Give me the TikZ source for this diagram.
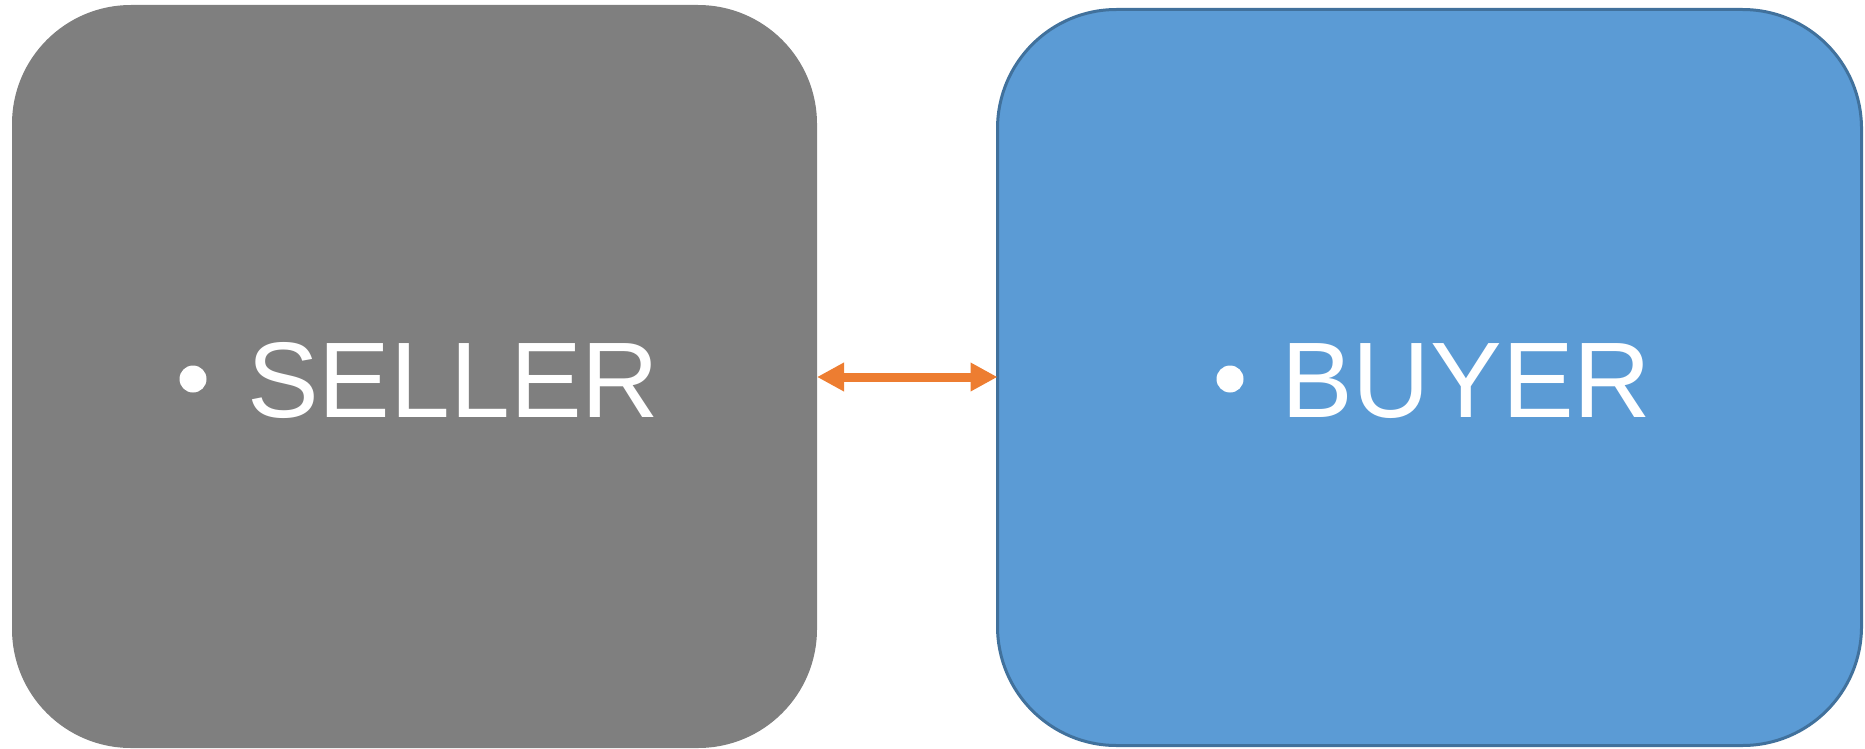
\documentclass[tikz,border=0pt]{standalone}
\usepackage{fontspec}
\setmainfont{Liberation Sans}
\usetikzlibrary{arrows.meta,positioning}

\definecolor{boxgray}{HTML}{7F7F7F}
\definecolor{boxblue}{HTML}{5B9BD5}
\definecolor{boxline}{HTML}{41719C}
\definecolor{linkorange}{HTML}{ED7D31}

\begin{document}
\begin{tikzpicture}[x=1pt, y=-1pt,
  party/.style     = { rectangle, rounded corners=119pt, inner sep=0pt, outer sep=0pt },
  bulletdot/.style = { circle, fill=white, minimum size=27pt, inner sep=0pt },
  partyname/.style = { anchor=base west, text=white, inner sep=0pt,
                       font=\fontsize{107.5}{129}\selectfont },
  tradelink/.style = { {Triangle[length=27pt,width=27pt]}-{Triangle[length=27pt,width=27pt]},
                       line width=9pt, linkorange }]
  \useasboundingbox (0,0) rectangle (1865,749);
  \node (seller) [party, fill=boxgray, minimum width=805pt, minimum height=743pt]
    at (414.5,376.5) {};
  \node (buyer) [party, fill=boxblue, draw=boxline, line width=3pt,
    minimum width=864pt, minimum height=736pt] at (1429.5,377.5) {};
  \node (sellerdot) [bulletdot] at (193,379) {};
  \node (sellername) [partyname] at (247,417) {SELLER};
  \node (buyerdot) [bulletdot] at (1230,379) {};
  \node (buyername) [partyname] at (1281,417) {BUYER};
  \draw [tradelink] (seller.east |- 0,377) -- (buyer.west |- 0,377);
\end{tikzpicture}
\end{document}
